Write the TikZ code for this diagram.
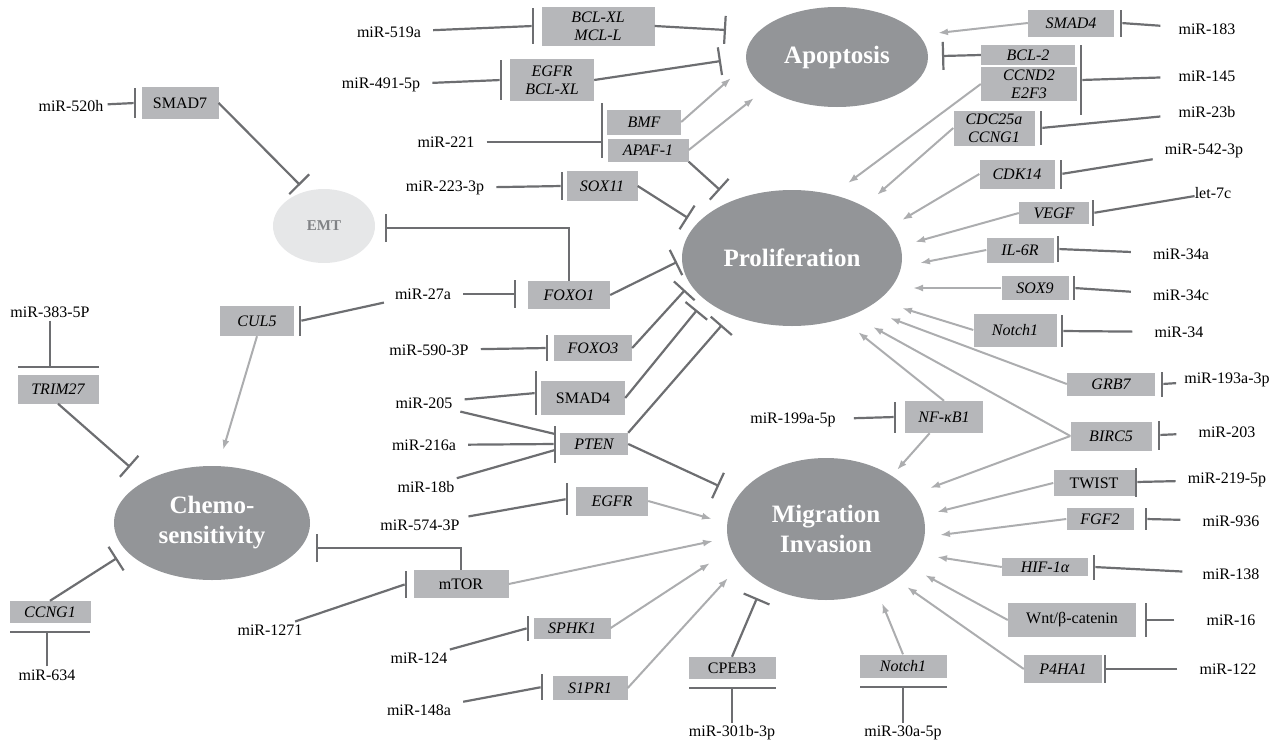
\documentclass[tikz,border=0pt]{standalone}
\usepackage{fontspec}
\setmainfont{Liberation Serif}
\usetikzlibrary{positioning, calc, arrows.meta, shapes.geometric}
\definecolor{boxgray}{RGB}{182,183,186}
\definecolor{ellgray}{RGB}{147,149,152}
\definecolor{emtgray}{RGB}{230,231,232}
\definecolor{emttext}{RGB}{128,130,133}
\definecolor{inhcol}{RGB}{109,110,113}
\definecolor{actcol}{RGB}{172,173,175}
\tikzset{proc/.style={ellipse, fill=ellgray, text=white, inner sep=0pt, align=center, font=\fontsize{25}{30}\selectfont\bfseries}}
\tikzset{gene/.style 2 args={fill=boxgray, inner sep=0pt, align=center, minimum width=#1pt, minimum height=#2pt, font=\fontsize{16}{18}\selectfont\itshape}}
\tikzset{rom/.style={font=\fontsize{16}{18}\selectfont}}
\tikzset{mir/.style={inner xsep=12pt, inner ysep=3pt, font=\fontsize{16}{18}\selectfont}}
\tikzset{vbar/.style={fill=inhcol, inner sep=0pt, minimum width=2.4pt, minimum height=#1pt}}
\tikzset{hbar/.style={fill=inhcol, inner sep=0pt, minimum height=2.4pt, minimum width=#1pt}}
\tikzset{act/.style={draw=actcol, line width=2pt, -{Latex[length=10pt,width=7pt]}}}
\tikzset{inh/.style={draw=inhcol, line width=2.2pt, -{Bar[width=28pt]}}}
\tikzset{rep/.style={draw=inhcol, line width=2.2pt}}

\begin{document}
\begin{tikzpicture}[x=1pt, y=-1pt]
  \useasboundingbox (0,0) rectangle (1286,742);

  % processes
  \node[proc, minimum width=182pt, minimum height=100pt] (apop) at (837,57) {Apoptosis};
  \node[proc, minimum width=220pt, minimum height=136pt] (prolif) at (792,258) {Proliferation};
  \node[proc, minimum width=198pt, minimum height=142pt] (migr) at (826,529) {Migration\\Invasion};
  \node[proc, minimum width=196pt, minimum height=114pt] (chemo) at (212,523) {Chemo-\\sensitivity};
  \node[proc, fill=emtgray, text=emttext, font=\fontsize{15}{18}\selectfont\bfseries,
        minimum width=102pt, minimum height=74pt] (emt) at (324,226) {EMT};

  % targets, left and middle
  \node[gene={113}{39}] (bclxl) at (598,26) {BCL-XL\\MCL-L};
  \node[gene={84}{42}] (egfra) at (552,80) {EGFR\\BCL-XL};
  \node[gene={74}{25}] (bmf) at (644,122) {BMF};
  \node[gene={81}{23}] (apaf) at (648,150) {APAF-1};
  \node[gene={71}{30}] (sox11) at (602,186) {SOX11};
  \node[gene={77}{32}, rom] (smad7) at (180,103) {SMAD7};
  \node[gene={82}{28}] (foxo1) at (569,295) {FOXO1};
  \node[gene={78}{26}] (foxo3) at (593,348) {FOXO3};
  \node[gene={84}{34}, rom] (smad4b) at (583,398) {SMAD4};
  \node[gene={68}{22}] (pten) at (594,444) {PTEN};
  \node[gene={72}{29}] (egfrb) at (612,501) {EGFR};
  \node[gene={95}{28}, rom] (mtor) at (461,584) {mTOR};
  \node[gene={77}{21}] (sphk1) at (572,628) {SPHK1};
  \node[gene={75}{24}] (s1pr1) at (590,688) {S1PR1};
  \node[gene={87}{22}, rom] (cpeb3) at (732,668) {CPEB3};
  \node[gene={74}{30}] (cul5) at (257,321) {CUL5};
  \node[gene={81}{29}] (trim27) at (58,389) {TRIM27};
  \node[gene={81}{22}] (ccng1) at (50,612) {CCNG1};

  % targets, right
  \node[gene={86}{27}] (smad4a) at (1071,23) {SMAD4};
  \node[gene={94}{20}] (bcl2) at (1028,55) {BCL-2};
  \node[gene={96}{34}] (ccnd2) at (1029,84) {CCND2\\E2F3};
  \node[gene={81}{35}] (cdc25) at (994,128) {CDC25a\\CCNG1};
  \node[gene={75}{29}] (cdk14) at (1017,174) {CDK14};
  \node[gene={70}{22}] (vegf) at (1054,213) {VEGF};
  \node[gene={67}{25}] (il6r) at (1020,250) {IL-6R};
  \node[gene={67}{24}] (sox9) at (1035,288) {SOX9};
  \node[gene={83}{33}] (notcha) at (1015,330) {Notch1};
  \node[gene={88}{23}] (grb7) at (1111,384) {GRB7};
  \node[gene={78}{32}] (nfkb) at (944,417) {NF-κB1};
  \node[gene={81}{29}] (birc5) at (1111,436) {BIRC5};
  \node[gene={81}{26}, rom] (twist) at (1094,483) {TWIST};
  \node[gene={67}{22}] (fgf2) at (1100,519) {FGF2};
  \node[gene={86}{18}] (hif) at (1045,567) {HIF-1α};
  \node[gene={128}{34}, rom] (wnt) at (1072,620) {Wnt/β-catenin};
  \node[gene={78}{28}] (p4ha1) at (1063,669) {P4HA1};
  \node[gene={87}{23}] (notchb) at (903,666) {Notch1};

  % bars
  \node[vbar=36] (b519) at (533,26) {};
  \node[vbar=40] (b491) at (501,80) {};
  \node[vbar=30] (b520) at (135,103) {};
  \node[vbar=55] (b221) at (602,130) {};
  \node[vbar=28] (b223) at (562,186) {};
  \node[vbar=28] (b27a) at (515,294) {};
  \node[vbar=30] (bcul) at (300,321) {};
  \node[vbar=26] (b590) at (547,348) {};
  \node[vbar=44] (b205) at (536,393) {};
  \node[vbar=37] (bpten) at (555,444) {};
  \node[vbar=32] (begfr) at (567,499) {};
  \node[vbar=27] (b1271) at (406,584) {};
  \node[vbar=25] (b124) at (528,628) {};
  \node[vbar=26] (b148) at (542,687) {};
  \node[vbar=27] (b183) at (1121,23) {};
  \node[vbar=70] (b145) at (1081,80) {};
  \node[vbar=34] (b23b) at (1041,128) {};
  \node[vbar=29] (b542) at (1061,174) {};
  \node[vbar=26] (blet) at (1093,213) {};
  \node[vbar=26] (b34a) at (1058,249) {};
  \node[vbar=24] (b34c) at (1074,288) {};
  \node[vbar=32] (b34) at (1062,331) {};
  \node[vbar=25] (b193) at (1162,384) {};
  \node[vbar=31] (b199) at (895,417) {};
  \node[vbar=29] (b203) at (1159,435) {};
  \node[vbar=29] (b219) at (1136,482) {};
  \node[vbar=22] (b936) at (1146,519) {};
  \node[vbar=25] (b138) at (1094,567) {};
  \node[vbar=34] (b16) at (1146,620) {};
  \node[vbar=28] (b122) at (1105,669) {};
  \node[hbar=81] (btrim) at (58,367) {};
  \node[hbar=80] (bccng) at (50,632) {};
  \node[hbar=87] (bcpeb) at (732,688) {};
  \node[hbar=87] (bnotch) at (903,687) {};

  % microRNAs
  \node[mir] (m519) at (389,32) {miR-519a};
  \node[mir] (m491) at (381,85) {miR-491-5p};
  \node[mir, inner xsep=4pt] (m520) at (71,106) {miR-520h};
  \node[mir] (m221) at (446,142) {miR-221};
  \node[mir] (m223) at (445,188) {miR-223-3p};
  \node[mir] (m27a) at (423,294) {miR-27a};
  \node[mir] (m590) at (429,350) {miR-590-3P};
  \node[mir] (m205) at (424,403) {miR-205};
  \node[mir] (m216) at (424,445) {miR-216a};
  \node[mir] (m18b) at (426,487) {miR-18b};
  \node[mir] (m574) at (420,525) {miR-574-3P};
  \node[mir, inner xsep=18pt] (m1271) at (270,630) {miR-1271};
  \node[mir] (m124) at (419,658) {miR-124};
  \node[mir] (m148) at (419,710) {miR-148a};
  \node[mir] (m383) at (50,312) {miR-383-5P};
  \node[mir] (m634) at (47,675) {miR-634};
  \node[mir] (m301) at (732,733) {miR-301b-3p};
  \node[mir] (m30a) at (903,733) {miR-30a-5p};
  \node[mir, inner xsep=18pt] (m199) at (793,420) {miR-199a-5p};
  \node[mir, inner xsep=18pt] (m183) at (1207,29) {miR-183};
  \node[mir, inner xsep=18pt] (m145) at (1207,76) {miR-145};
  \node[mir, inner xsep=18pt] (m23b) at (1207,112) {miR-23b};
  \node[mir] (m542) at (1204,151) {miR-542-3p};
  \node[mir, inner sep=0pt] (mlet) at (1213,193) {let-7c};
  \node[mir, inner xsep=22pt] (m34a) at (1181,254) {miR-34a};
  \node[mir, inner xsep=22pt] (m34c) at (1181,295) {miR-34c};
  \node[mir, inner xsep=22pt] (m34) at (1179,332) {miR-34};
  \node[mir, inner xsep=8pt] (m193) at (1227,380) {miR-193a-3p};
  \node[mir, inner xsep=22pt] (m203) at (1227,432) {miR-203};
  \node[mir] (m219) at (1227,480) {miR-219-5p};
  \node[mir, inner xsep=22pt] (m936) at (1231,521) {miR-936};
  \node[mir, inner xsep=20pt] (m138) at (1231,574) {miR-138};
  \node[mir, inner xsep=32pt] (m16) at (1231,620) {miR-16};
  \node[mir, inner xsep=22pt] (m122) at (1228,669) {miR-122};

  % microRNA -> target
  \draw[rep] (m519) -- (b519);
  \draw[rep] (m491) -- (b491);
  \draw[rep] (m520) -- (b520);
  \draw[rep] (m221) -- (m221 -| b221);
  \draw[rep] (m223) -- (b223);
  \draw[rep] (m27a) -- (b27a);
  \draw[rep] (m27a) -- (bcul);
  \draw[rep] (m590) -- (b590);
  \draw[rep] (m205) -- (b205);
  \draw[rep] (m205) -- ($(bpten)+(0,-10)$);
  \draw[rep] (m216) -- (bpten);
  \draw[rep] (m18b) -- ($(bpten)+(0,6)$);
  \draw[rep] (m574) -- (begfr);
  \draw[rep] (m1271) -- (b1271);
  \draw[rep] (m124) -- (b124);
  \draw[rep] (m148) -- (b148);
  \draw[rep] (m383) -- (m383 |- btrim);
  \draw[rep] (m634) -- (m634 |- bccng);
  \draw[rep] (m301) -- (m301 |- bcpeb);
  \draw[rep] (m30a) -- (m30a |- bnotch);
  \draw[rep] (m199) -- (b199);
  \draw[rep] (m183) -- (b183);
  \draw[rep] (m145) -- (b145);
  \draw[rep] (m23b) -- (b23b);
  \draw[rep] (m542) -- (b542);
  \draw[rep] (mlet) -- (blet);
  \draw[rep] (m34a) -- (b34a);
  \draw[rep] (m34c) -- (b34c);
  \draw[rep] (m34) -- (b34);
  \draw[rep] (m193) -- (b193);
  \draw[rep] (m203) -- (b203);
  \draw[rep] (m219) -- (b219);
  \draw[rep] (m936) -- (b936);
  \draw[rep] (m138) -- (b138);
  \draw[rep] (m16) -- (b16);
  \draw[rep] (m122) -- (b122);

  % target -> apoptosis
  \draw[inh] (bclxl.east) -- ($(apop)+(-111,-27)$);
  \draw[inh] (egfra.east) -- ($(apop)+(-116,4)$);
  \draw[act] (bmf.east) -- ($(apop)+(-106,21)$);
  \draw[act] (apaf.east) -- ($(apop)+(-83,41)$);
  \draw[act] (smad4a.west) -- ($(apop)+(101,-24)$);
  \draw[inh] (bcl2.west) -- ($(apop)+(105,-1)$);

  % target -> proliferation
  \draw[inh] (apaf.south east) -- ($(prolif)+(-72,-68)$);
  \draw[inh] (sox11.east) -- ($(prolif)+(-104,-40)$);
  \draw[inh] (foxo1.east) -- ($(prolif)+(-115,4)$);
  \draw[inh] (foxo3.east) -- ($(prolif)+(-107,32)$);
  \draw[inh] (smad4b.east) -- ($(prolif)+(-95,52)$);
  \draw[inh] (pten.north east) -- ($(prolif)+(-70,67)$);
  \draw[act] (ccnd2.west) -- ($(prolif)+(56,-75)$);
  \draw[act] (cdc25.west) -- ($(prolif)+(85,-63)$);
  \draw[act] (cdk14.west) -- ($(prolif)+(110,-38)$);
  \draw[act] (vegf.west) -- ($(prolif)+(123,-16)$);
  \draw[act] (il6r.west) -- ($(prolif)+(128,5)$);
  \draw[act] (sox9.west) -- ($(prolif)+(121,30)$);
  \draw[act] (notcha.west) -- ($(prolif)+(110,50)$);
  \draw[act] (grb7.west) -- ($(prolif)+(98,60)$);
  \draw[act] (birc5.west) -- ($(prolif)+(81,69)$);
  \draw[act] (nfkb.north) -- ($(prolif)+(66,74)$);

  % target -> migration / invasion
  \draw[inh] (pten.east) -- ($(migr)+(-107,-43)$);
  \draw[act] (egfrb.east) -- ($(migr)+(-114,-10)$);
  \draw[act] (mtor.east) -- ($(migr)+(-113,12)$);
  \draw[act] (sphk1.east) -- ($(migr)+(-116,34)$);
  \draw[act] (s1pr1.east) -- ($(migr)+(-98,49)$);
  \draw[inh] (cpeb3.north) -- ($(migr)+(-69,69)$);
  \draw[act] (notchb.north) -- ($(migr)+(56,74)$);
  \draw[act] (p4ha1.west) -- ($(migr)+(81,58)$);
  \draw[act] (wnt.west) -- ($(migr)+(99,46)$);
  \draw[act] (hif.west) -- ($(migr)+(111,28)$);
  \draw[act] (fgf2.west) -- ($(migr)+(114,6)$);
  \draw[act] (twist.west) -- ($(migr)+(111,-17)$);
  \draw[act] (birc5.west) -- ($(migr)+(104,-41)$);
  \draw[act] (nfkb) -- ($(migr)+(71,-59)$);

  % target -> chemosensitivity, EMT
  \draw[inh] (trim27.south) -- ($(chemo)+(-82,-56)$);
  \draw[act] (cul5.south) -- ($(chemo)+(11,-73)$);
  \draw[inh] (ccng1.north) -- ($(chemo)+(-95,35)$);
  \draw[inh] (mtor.north) |- ($(chemo)+(104,25)$);
  \draw[inh] (smad7.east) -- ($(emt)+(-24,-41)$);
  \draw[inh] (foxo1.north) |- ($(emt)+(61,2)$);
\end{tikzpicture}
\end{document}
